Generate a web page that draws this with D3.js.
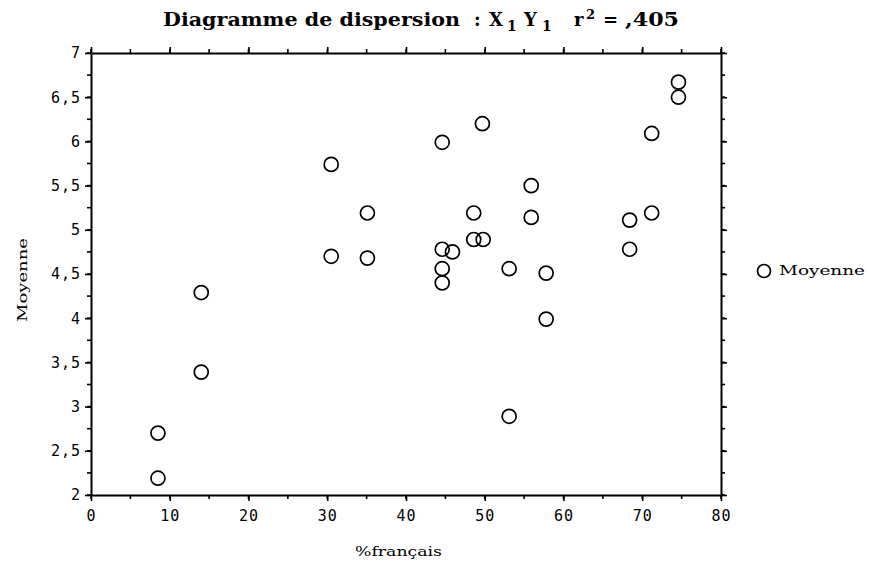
<!DOCTYPE html>
<html>
<head>
<meta charset="utf-8">
<script src="https://cdn.jsdelivr.net/npm/d3@7"></script>
<style>
  html, body { margin: 0; padding: 0; background: #fff; }
  svg { display: block; }
  .tick text { font-family: "DejaVu Sans Mono", "Liberation Mono", monospace; font-size: 15px; fill: #000; letter-spacing: 1px; }
</style>
</head>
<body>
<svg id="chart" width="870" height="563"></svg>
<script>
// %français vs Moyenne
const pctFrancais = [30.5, 35.1, 30.5, 35.1, 14.0, 14.0, 8.5, 8.5,
  74.6, 74.6, 49.7, 44.6, 71.2, 55.9, 48.6, 55.9, 68.4, 71.2,
  48.6, 49.8, 44.6, 45.9, 68.4, 44.6, 44.6, 53.1, 57.8, 57.8, 53.1];
const moyenne = [5.74, 5.19, 4.70, 4.68, 4.29, 3.39, 2.70, 2.19,
  6.67, 6.50, 6.20, 5.99, 6.09, 5.50, 5.19, 5.14, 5.11, 5.19,
  4.89, 4.89, 4.78, 4.75, 4.78, 4.56, 4.40, 4.56, 4.51, 3.99, 2.89];
const xTicks = [0, 10, 20, 30, 40, 50, 60, 70, 80];
const yTicks = [2, 2.5, 3, 3.5, 4, 4.5, 5, 5.5, 6, 6.5, 7];
const seriesName = "Moyenne";

const svg = d3.select("#chart");
const plotL = 91, plotR = 721, plotT = 53, plotB = 495;

const x = d3.scaleLinear().domain([0, 80]).range([plotL, plotR]);
const y = d3.scaleLinear().domain([2, 7]).range([plotB, plotT]);

const fmtY = v => String(v).replace(".", ",");
const xMinor = d3.range(0, 81, 5);
const yMinor = d3.range(2, 7.001, 0.25);

function styleAxis(g) {
  g.select(".domain").attr("stroke", "#000").attr("stroke-width", 2);
  g.selectAll(".tick line").attr("stroke", "#000").attr("stroke-width", 1.6);
}

// minor ticks on all four sides
const minor = svg.append("g").attr("stroke", "#000").attr("stroke-width", 1.6);
minor.selectAll(".mb").data(xMinor).join("line").attr("class", "mb")
  .attr("x1", d => x(d)).attr("x2", d => x(d)).attr("y1", plotB).attr("y2", plotB + 4);
minor.selectAll(".mt").data(xMinor).join("line").attr("class", "mt")
  .attr("x1", d => x(d)).attr("x2", d => x(d)).attr("y1", plotT).attr("y2", plotT - 4);
minor.selectAll(".ml").data(yMinor).join("line").attr("class", "ml")
  .attr("x1", plotL).attr("x2", plotL - 4).attr("y1", d => y(d)).attr("y2", d => y(d));
minor.selectAll(".mr").data(yMinor).join("line").attr("class", "mr")
  .attr("x1", plotR).attr("x2", plotR + 4).attr("y1", d => y(d)).attr("y2", d => y(d));

svg.append("g").attr("transform", `translate(0,${plotB})`)
  .call(d3.axisBottom(x).tickValues(xTicks).tickSize(6).tickSizeOuter(0).tickPadding(9))
  .call(styleAxis);
svg.append("g").attr("transform", `translate(0,${plotT})`)
  .call(d3.axisTop(x).tickValues(xTicks).tickSize(6).tickSizeOuter(0).tickFormat(""))
  .call(styleAxis);
svg.append("g").attr("transform", `translate(${plotL},0)`)
  .call(d3.axisLeft(y).tickValues(yTicks).tickSize(6).tickSizeOuter(0).tickPadding(4).tickFormat(fmtY))
  .call(styleAxis);
svg.append("g").attr("transform", `translate(${plotR},0)`)
  .call(d3.axisRight(y).tickValues(yTicks).tickSize(6).tickSizeOuter(0).tickFormat(""))
  .call(styleAxis);

// points
const pts = pctFrancais.map((v, i) => ({ x: v, y: moyenne[i] }));
svg.append("g").selectAll("circle").data(pts).join("circle")
  .attr("cx", d => x(d.x)).attr("cy", d => y(d.y)).attr("r", 7)
  .attr("fill", "none").attr("stroke", "#000").attr("stroke-width", 1.7);

// title
const titleFont = "DejaVu Serif, serif";
const title = svg.append("g")
  .attr("font-family", titleFont).attr("font-weight", "bold").attr("fill", "#000");
title.append("text").attr("x", 163).attr("y", 26).attr("font-size", 18)
  .attr("textLength", 297).attr("lengthAdjust", "spacingAndGlyphs")
  .text("Diagramme de dispersion");
title.append("text").attr("x", 474).attr("y", 26).attr("font-size", 18).text(":");
title.append("text").attr("x", 489).attr("y", 26).attr("font-size", 18).text("X");
title.append("text").attr("x", 507).attr("y", 31).attr("font-size", 14).text("1");
title.append("text").attr("x", 524).attr("y", 26).attr("font-size", 18).text("Y");
title.append("text").attr("x", 542).attr("y", 31).attr("font-size", 14).text("1");
title.append("text").attr("x", 574).attr("y", 26).attr("font-size", 18).text("r");
title.append("text").attr("x", 586).attr("y", 19).attr("font-size", 13).text("2");
title.append("text").attr("x", 603).attr("y", 26).attr("font-size", 18).text("=");
title.append("text").attr("x", 625).attr("y", 26).attr("font-size", 18)
  .attr("textLength", 54).attr("lengthAdjust", "spacingAndGlyphs").text(",405");

// axis titles
svg.append("text")
  .attr("x", 355).attr("y", 556)
  .attr("font-family", "DejaVu Serif, serif").attr("font-size", 13)
  .attr("textLength", 87).attr("lengthAdjust", "spacingAndGlyphs")
  .text("%français");
svg.append("text")
  .attr("transform", `translate(27,322) rotate(-90)`)
  .attr("font-family", "DejaVu Serif, serif").attr("font-size", 13)
  .attr("textLength", 84).attr("lengthAdjust", "spacingAndGlyphs")
  .text(seriesName);

// legend
svg.append("circle").attr("cx", 764).attr("cy", 271).attr("r", 6.5)
  .attr("fill", "none").attr("stroke", "#000").attr("stroke-width", 1.7);
svg.append("text").attr("x", 779).attr("y", 275)
  .attr("font-family", "DejaVu Serif, serif").attr("font-size", 13)
  .attr("textLength", 86).attr("lengthAdjust", "spacingAndGlyphs")
  .text(seriesName);
</script>
</body>
</html>
